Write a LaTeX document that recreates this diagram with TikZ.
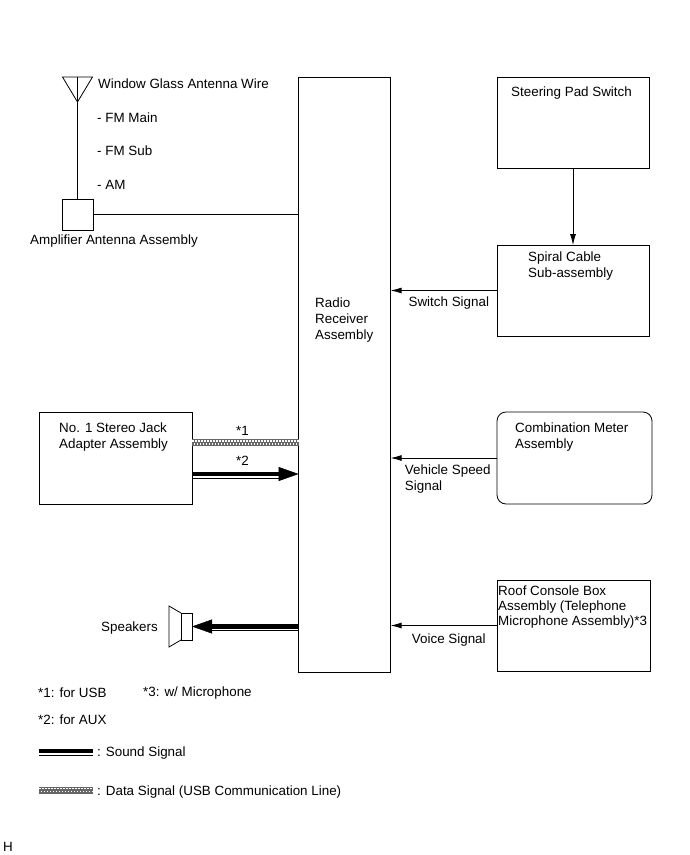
\documentclass[tikz,border=0pt]{standalone}
\usepackage{fontspec}
\setmainfont{Liberation Sans}
\usetikzlibrary{arrows.meta, positioning}

\tikzset{
	unitbox/.style={draw, line width=0.8pt, inner sep=0pt, outer sep=0pt, anchor=north west},
	lbl/.style={inner sep=0pt, align=left, anchor=west, font=\fontsize{13.4}{16}\selectfont},
	wire/.style={line width=0.8pt},
	signal/.style={draw, line width=0.8pt, -{Latex[length=11pt,width=6pt]}},
	soundline/.style={line width=4.5pt, postaction={draw, line width=1pt, transform canvas={yshift=-4pt}}},
	soundtip/.style={line width=0.5pt, -{Triangle[length=20pt,width=14pt]}},
	dataline/.style={line width=7pt, draw=black!60,
		postaction={draw=white, line width=1.5pt, dash pattern=on 1.5pt off 1.5pt, transform canvas={yshift=1.5pt}},
		postaction={draw=white, line width=1.5pt, dash pattern=on 1.5pt off 1.5pt, dash phase=1.5pt, transform canvas={yshift=-1.5pt}}},
}

\begin{document}
\begin{tikzpicture}[x=1pt, y=-1pt]

		\useasboundingbox (0,0) rectangle (690,855);

		\node[unitbox, minimum width=92pt, minimum height=595pt] (radio) at (298.6,77) {};
		\node[unitbox, minimum width=152pt, minimum height=91pt] (steering) at (497,77) {};
		\node[unitbox, minimum width=152pt, minimum height=91pt, below=77pt of steering.south west, anchor=north west] (spiral) {};
		\node[unitbox, rounded corners=9pt, minimum width=155pt, minimum height=92pt] (meter) at (497,412) {};
		\node[unitbox, minimum width=153pt, minimum height=91pt] (roof) at (497,580) {};
		\node[unitbox, minimum width=153pt, minimum height=92pt] (stereo) at (39,412) {};
		\node[unitbox, minimum width=31pt, minimum height=31pt] (amp) at (62,199) {};
		\node[unitbox, minimum width=11pt, minimum height=27pt] (speaker) at (181,613) {};

		\node[lbl] (antennaname) at (98,84) {Window Glass Antenna Wire};
		\node[lbl, below=34pt of antennaname.west, anchor=west, xshift=-1pt] (fmmain) {- FM Main};
		\node[lbl, below=33pt of fmmain.west, anchor=west] (fmsub) {- FM Sub};
		\node[lbl, below=34pt of fmsub.west, anchor=west] (am) {- AM};
		\node[lbl] (ampname) at (30,241) {Amplifier Antenna Assembly};
		\node[lbl] (radioname) at (315,320) {Radio\\Receiver\\Assembly};
		\node[lbl] (steeringname) at (511,93.5) {Steering Pad Switch};
		\node[lbl] (spiralname) at (528,266.5) {Spiral Cable\\Sub-assembly};
		\node[lbl] (metername) at (515,437) {Combination Meter\\Assembly};
		\node[lbl, font=\fontsize{13.4}{15}\selectfont] (roofname) at (498,607) {Roof Console Box\\Assembly (Telephone\\Microphone Assembly)*3};
		\node[lbl] (stereoname) at (59,437) {No. 1 Stereo Jack\\Adapter Assembly};
		\node[lbl] (usbmark) at (236,431) {*1};
		\node[lbl] (auxmark) at (236,461) {*2};
		\node[lbl] (speakername) at (101,628) {Speakers};
		\node[lbl] (note1) at (38,693) {*1: for USB};
		\node[lbl] (note3) at (143,693) {*3: w/ Microphone};
		\node[lbl] (note2) at (38,720) {*2: for AUX};
		\node[lbl] (soundkey) at (97,753.5) {: Sound Signal};
		\node[lbl] (datakey) at (97,792) {: Data Signal (USB Communication Line)};
		\node[lbl] (hmark) at (3,847) {H};

		\coordinate (anttop) at (amp.north |- steering.north);
		\coordinate (usbout) at ([yshift=15.5pt]stereo.east);
		\coordinate (auxout) at ([yshift=-16pt]stereo.east);
		\coordinate (soundstart) at (39,751);
		\coordinate (soundend) at (93,751);
		\coordinate (datastart) at (39,790);
		\coordinate (dataend) at (93,790);

		\draw[wire] (amp.north) -- (anttop);
		\draw[wire] (anttop) ++(-15,0) -- ++(30,0) -- ++(-15,25) -- cycle;
		\draw[wire] (amp.east) -- (amp.east -| radio.west);
		\draw[wire] (speaker.north west) -- ++(-12,-7) -- ++(0,41) -- (speaker.south west);

		\path[font=\fontsize{13.4}{16}\selectfont]
		(steering.south) edge[signal] (spiral.north)
		(spiral.west) edge[signal] node[below=3pt, xshift=5pt] {Switch Signal} (spiral.west -| radio.east)
		(meter.west) edge[signal] node[below=3pt, align=left, xshift=4pt] {Vehicle Speed\\Signal} (meter.west -| radio.east)
		(roof.west) edge[signal] node[below=4.5pt, xshift=5pt] {Voice Signal} (roof.west -| radio.east);

		\draw[dataline] (usbout) -- (usbout -| radio.west);
		\draw[soundline, shorten >=18pt] (auxout) -- (auxout -| radio.west);
		\draw[soundtip] (auxout) -- (auxout -| radio.west);
		\draw[soundline, shorten >=18pt] (speaker.east -| radio.west) -- (speaker.east);
		\draw[soundtip] (speaker.east -| radio.west) -- (speaker.east);

		\draw[soundline] (soundstart) -- (soundend);
		\draw[dataline] (datastart) -- (dataend);

\end{tikzpicture}
\end{document}
